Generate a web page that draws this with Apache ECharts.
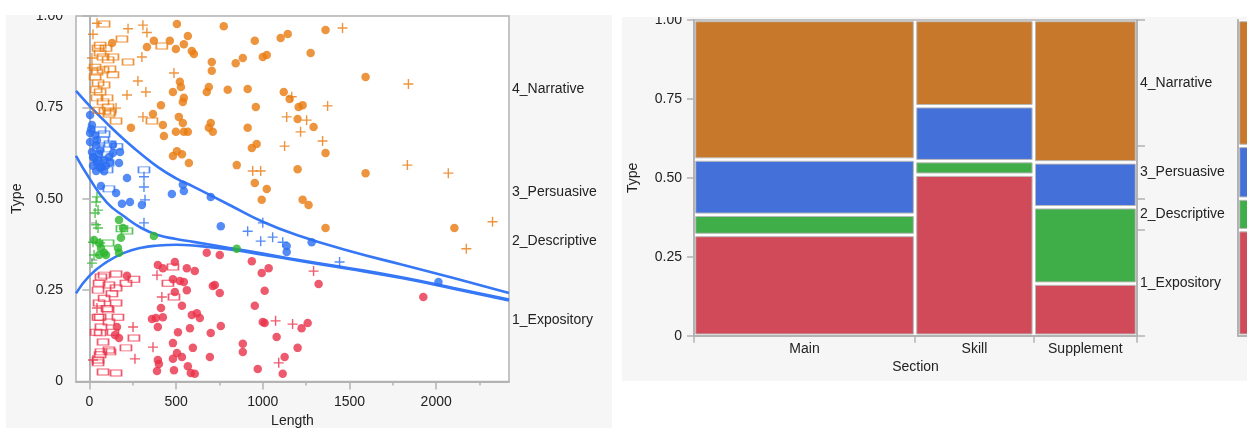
<!DOCTYPE html>
<html>
<head>
<meta charset="utf-8">
<script src="https://cdn.jsdelivr.net/npm/echarts@6/dist/echarts.min.js"></script>
<style>
  html, body { margin: 0; padding: 0; background: #ffffff; }
  #chart { width: 1247px; height: 428px; }
</style>
</head>
<body>
<div id="chart"></div>
<script>
// ---- Response categories and explanatory groups ----
const types = ['1_Expository', '2_Descriptive', '3_Persuasive', '4_Narrative'];
const sections = ['Main', 'Skill', 'Supplement'];

// Share of documents in each Section (mosaic column widths)
const sectionShare = [0.499, 0.268, 0.233];
// Share of each Type inside a Section, bottom to top: Expository, Descriptive, Persuasive, Narrative
const mainTypeShare = [0.319, 0.064, 0.175, 0.442];
const skillTypeShare = [0.510, 0.043, 0.174, 0.273];
const supplementTypeShare = [0.165, 0.242, 0.142, 0.451];

// Axis tick labels
const lengthTicks = [0, 500, 1000, 1500, 2000];
const lengthMinorTicks = [250, 750, 1250, 1750, 2250];
const probTicks = [0, 0.25, 0.5, 0.75, 1];

// Fitted cumulative probability curves against Length
const curveLength = [-77, 0, 100, 200, 300, 400, 500, 600, 800, 1000, 1200, 1500, 1800, 2100, 2420];
const curveNarrativeEdge = [0.795, 0.755, 0.707, 0.662, 0.622, 0.585, 0.556, 0.533, 0.485, 0.437, 0.400, 0.357, 0.320, 0.283, 0.242];
const curvePersuasiveEdge = [0.617, 0.556, 0.490, 0.452, 0.420, 0.400, 0.390, 0.382, 0.366, 0.350, 0.333, 0.310, 0.285, 0.256, 0.224];
const curveDescriptiveEdge = [0.241, 0.289, 0.327, 0.352, 0.366, 0.372, 0.374, 0.372, 0.362, 0.347, 0.331, 0.308, 0.283, 0.254, 0.222];

// Documents: [Length, jittered Type position]
const narrativeMain = [[505,0.978],[775,0.972],[332,0.915],[372,0.932],[464,0.932],[499,0.910],[545,0.923],[568,0.945],[591,0.904],[603,0.896],[706,0.874],[706,0.850],[844,0.871],[885,0.885],[954,0.932],[1000,0.888],[1023,0.893],[1103,0.940],[1144,0.951],[1276,0.899],[131,0.926],[522,0.820],[528,0.806],[482,0.792],[545,0.776],[539,0.765],[689,0.806],[677,0.792],[798,0.798],[913,0.800],[413,0.756],[367,0.732],[424,0.702],[430,0.672],[240,0.694],[516,0.724],[539,0.707],[499,0.683],[545,0.683],[568,0.683],[700,0.707],[689,0.694],[712,0.683],[960,0.751],[913,0.694],[937,0.639],[965,0.650],[850,0.592],[482,0.617],[534,0.622],[574,0.598],[1121,0.792],[1155,0.773],[1207,0.751],[1230,0.756],[1201,0.718],[1293,0.696],[1201,0.581],[954,0.543],[1023,0.527],[994,0.497],[1230,0.497],[1264,0.483],[1362,0.962],[1593,0.833],[1362,0.625],[1593,0.570],[1362,0.420],[2105,0.420],[505,0.630]];
const narrativeSkill = [[85,0.978],[188,0.937],[418,0.918],[223,0.874],[361,0.713],[154,0.713],[113,0.732],[62,0.920],[62,0.899],[79,0.888],[108,0.880],[33,0.860],[44,0.847],[33,0.833],[79,0.852],[119,0.855],[136,0.888],[50,0.817],[62,0.792],[44,0.776],[102,0.776],[119,0.737],[108,0.751],[79,0.765],[96,0.912],[50,0.912],[85,0.811],[39,0.798],[136,0.839],[56,0.742],[90,0.740]];
const narrativeSupplement = [[44,0.980],[21,0.950],[223,0.965],[309,0.975],[332,0.955],[303,0.888],[488,0.844],[280,0.822],[326,0.792],[217,0.784],[309,0.724],[154,0.748],[1138,0.724],[1253,0.715],[1218,0.683],[1126,0.644],[942,0.576],[988,0.576],[1167,0.779],[15,0.885],[15,0.858],[1460,0.967],[1840,0.814],[1374,0.754],[1345,0.658],[1834,0.592],[2070,0.570],[2325,0.437],[2174,0.363]];

const persuasiveMain = [[4,0.729],[15,0.702],[4,0.680],[4,0.655],[15,0.628],[21,0.614],[44,0.598],[73,0.587],[136,0.625],[177,0.628],[136,0.647],[171,0.598],[39,0.576],[67,0.535],[154,0.516],[217,0.557],[39,0.647],[62,0.633],[33,0.674],[85,0.606],[113,0.614],[10,0.690],[27,0.612],[50,0.605],[62,0.585],[96,0.590],[21,0.590],[56,0.622],[85,0.575],[119,0.600],[44,0.660],[476,0.513],[539,0.538],[545,0.521],[700,0.505],[188,0.486],[234,0.491],[303,0.483],[758,0.425],[1138,0.371],[1138,0.354],[1282,0.381],[2013,0.272]];
const persuasiveSkill = [[315,0.579],[113,0.527],[62,0.688],[79,0.661],[159,0.642],[50,0.639],[102,0.620],[108,0.598],[102,0.579],[119,0.650],[85,0.677]];
const persuasiveSupplement = [[315,0.560],[315,0.532],[321,0.497],[315,0.434],[1000,0.434],[913,0.411],[988,0.384],[1057,0.395],[1115,0.381],[1443,0.327]];

const descriptiveMain = [[27,0.387],[56,0.379],[67,0.365],[85,0.352],[96,0.346],[56,0.346],[171,0.442],[182,0.393],[165,0.365],[171,0.352],[194,0.420],[372,0.398],[850,0.363]];
const descriptiveSkill = [[188,0.418],[217,0.412],[108,0.379]];
const descriptiveSupplement = [[39,0.491],[50,0.469],[39,0.429],[50,0.420],[21,0.381],[15,0.324],[27,0.346],[62,0.379],[44,0.505],[33,0.461]];

const expositoryMain = [[217,0.289],[395,0.319],[424,0.310],[493,0.327],[562,0.310],[608,0.302],[677,0.352],[752,0.346],[937,0.329],[994,0.297],[1034,0.310],[482,0.280],[522,0.275],[545,0.272],[493,0.245],[562,0.250],[712,0.261],[752,0.242],[1011,0.248],[954,0.207],[413,0.201],[424,0.176],[534,0.207],[591,0.182],[620,0.187],[637,0.174],[361,0.171],[395,0.149],[511,0.135],[580,0.146],[700,0.133],[758,0.152],[482,0.105],[597,0.092],[505,0.078],[534,0.067],[395,0.059],[401,0.048],[482,0.062],[695,0.067],[885,0.103],[885,0.081],[568,0.042],[585,0.023],[608,0.021],[488,0.031],[390,0.029],[1000,0.163],[1011,0.160],[1080,0.122],[1126,0.067],[1115,0.021],[1224,0.146],[1259,0.160],[1201,0.092],[971,0.034],[1322,0.267],[1926,0.231],[724,0.264],[384,0.174],[159,0.149],[148,0.127],[171,0.119]];
const expositorySkill = [[85,0.291],[154,0.294],[257,0.280],[56,0.269],[113,0.264],[50,0.250],[154,0.256],[211,0.269],[85,0.228],[56,0.215],[154,0.215],[108,0.196],[50,0.176],[113,0.163],[67,0.149],[39,0.135],[136,0.135],[79,0.108],[113,0.086],[67,0.081],[211,0.092],[257,0.119],[50,0.059],[79,0.026],[154,0.023],[482,0.313],[453,0.269],[488,0.231],[67,0.286],[165,0.176],[62,0.176],[62,0.133],[119,0.081],[62,0.073],[50,0.051],[102,0.200],[130,0.240]];
const expositorySupplement = [[390,0.291],[418,0.231],[252,0.149],[367,0.094],[263,0.062],[21,0.059],[44,0.201],[1074,0.166],[1172,0.157],[1092,0.051],[1293,0.302]];

// ---- Styling ----
const FONT = '"Liberation Sans", Arial, Helvetica, sans-serif';
const TEXT = '#222222';
const AXIS = '#b3b3b3';
const PANEL = '#f6f6f6';
const pointColor = ['#ea3148', '#2db52d', '#2a6ef2', '#e97a0e'];
const cellColor = ['#d04a59', '#3fad48', '#4470da', '#c8782b'];
const CURVE = '#3677f6';
const PLUS = 'path://M4.3,0H5.7V4.3H10V5.7H5.7V10H4.3V5.7H0V4.3H4.3Z';

// ---- Derived layout values for the mosaic and the right-hand category axes ----
const typeShareBySection = [mainTypeShare, skillTypeShare, supplementTypeShare];
const overallShare = types.map((_, t) =>
  sectionShare.reduce((acc, w, s) => acc + w * typeShareBySection[s][t], 0));
function cumulative(arr) {
  const out = [0];
  arr.forEach(v => out.push(out[out.length - 1] + v));
  return out;
}
const typeEdges = cumulative(overallShare);
typeEdges[typeEdges.length - 1] = 1;
const typeMids = types.map((_, t) => (typeEdges[t] + typeEdges[t + 1]) / 2);
const sectionEdges = cumulative(sectionShare);
sectionEdges[sectionEdges.length - 1] = 1;
const sectionMids = sections.map((_, s) => (sectionEdges[s] + sectionEdges[s + 1]) / 2);

function nearestName(v, mids, names) {
  let k = 0;
  for (let i = 1; i < mids.length; i++) {
    if (Math.abs(mids[i] - v) < Math.abs(mids[k] - v)) k = i;
  }
  return names[k];
}

const mosaicCells = [];
sections.forEach((_, s) => {
  const edges = cumulative(typeShareBySection[s]);
  types.forEach((_, t) => {
    mosaicCells.push([sectionEdges[s], sectionEdges[s + 1], edges[t], t === types.length - 1 ? 1 : edges[t + 1], t]);
  });
});
const marginalCells = types.map((_, t) => [0, 1, typeEdges[t], typeEdges[t + 1], t]);

function renderCell(params, api) {
  const a = api.coord([api.value(0), api.value(3)]);
  const b = api.coord([api.value(1), api.value(2)]);
  const g = 1.7;
  return {
    type: 'rect',
    shape: { x: a[0] + g, y: a[1] + g, width: b[0] - a[0] - 2 * g, height: b[1] - a[1] - 2 * g },
    style: { fill: cellColor[api.value(4)], stroke: '#b9b9b9', lineWidth: 1 }
  };
}

const labelStyle = { color: TEXT, fontSize: 14, fontFamily: FONT };
const axisLine = { show: true, lineStyle: { color: AXIS, width: 2 } };
const tickStyle = { color: AXIS, width: 1.5 };
const probLabel = v => (v === 0 ? '0' : v.toFixed(2));

// ---- Scatter series ----
const groups = [
  [expositoryMain, expositorySkill, expositorySupplement],
  [descriptiveMain, descriptiveSkill, descriptiveSupplement],
  [persuasiveMain, persuasiveSkill, persuasiveSupplement],
  [narrativeMain, narrativeSkill, narrativeSupplement]
];
const scatterSeries = [];
groups.forEach((bySection, t) => {
  bySection.forEach((pts, s) => {
    const base = { type: 'scatter', name: types[t] + ' / ' + sections[s], xAxisIndex: 0, yAxisIndex: 0, data: pts, z: 4, silent: true };
    if (s === 0) {
      Object.assign(base, { symbol: 'circle', symbolSize: 8.5, itemStyle: { color: pointColor[t] } });
    } else if (s === 1) {
      Object.assign(base, { symbol: 'rect', symbolSize: [11, 6], itemStyle: { color: 'rgba(255,255,255,0)', borderColor: pointColor[t], borderWidth: 1.3 } });
    } else {
      Object.assign(base, { symbol: PLUS, symbolSize: 10, itemStyle: { color: pointColor[t] } });
    }
    scatterSeries.push(base);
  });
});

const curveSeries = [curveNarrativeEdge, curvePersuasiveEdge, curveDescriptiveEdge].map(vals => ({
  type: 'line',
  xAxisIndex: 0, yAxisIndex: 0,
  data: curveLength.map((x, i) => [x, vals[i]]),
  showSymbol: false, symbol: 'none',
  smooth: 0.5,
  lineStyle: { color: CURVE, width: 2.6 },
  z: 3, silent: true
}));

const chart = echarts.init(document.getElementById('chart'), null, { renderer: 'canvas' });
chart.setOption({
  animation: false,
  backgroundColor: '#ffffff',
  graphic: [
    { type: 'rect', z: -10, silent: true, shape: { x: 6, y: 15, width: 606, height: 413 }, style: { fill: PANEL } },
    { type: 'rect', z: -10, silent: true, shape: { x: 622, y: 17, width: 625, height: 364 }, style: { fill: PANEL } },
    { type: 'rect', z: 100, silent: true, shape: { x: 0, y: 0, width: 616, height: 15 }, style: { fill: '#ffffff' } },
    { type: 'rect', z: 100, silent: true, shape: { x: 616, y: 0, width: 631, height: 17 }, style: { fill: '#ffffff' } }
  ],
  grid: [
    { left: 76, top: 16, width: 433, height: 365.5, show: true, backgroundColor: '#ffffff', borderColor: AXIS, borderWidth: 1.5, outerBoundsMode: 'none', containLabel: false },
    { left: 694, top: 20, width: 443, height: 315.7, show: true, backgroundColor: '#ffffff', borderColor: AXIS, borderWidth: 1.5, outerBoundsMode: 'none', containLabel: false },
    { left: 1238, top: 20, width: 40, height: 315.7, show: true, backgroundColor: '#ffffff', borderWidth: 0, outerBoundsMode: 'none', containLabel: false }
  ],
  xAxis: [
    {
      gridIndex: 0, type: 'value', min: -77, max: 2420, position: 'bottom',
      axisLine: axisLine,
      axisTick: { show: true, customValues: lengthTicks, length: 8, lineStyle: tickStyle },
      axisLabel: Object.assign({ customValues: lengthTicks, margin: 14, formatter: v => String(v) }, labelStyle),
      splitLine: { show: false },
      name: 'Length', nameLocation: 'middle', nameGap: 30, nameTextStyle: labelStyle
    },
    {
      gridIndex: 0, type: 'value', min: -77, max: 2420, position: 'bottom',
      axisLine: { show: false },
      axisTick: { show: true, customValues: lengthMinorTicks, length: 4, lineStyle: tickStyle },
      axisLabel: { show: false },
      splitLine: { show: false }
    },
    {
      gridIndex: 1, type: 'value', min: 0, max: 1, position: 'bottom',
      axisLine: axisLine,
      axisTick: { show: true, customValues: sectionEdges, length: 7, lineStyle: tickStyle },
      axisLabel: Object.assign({ customValues: sectionMids, margin: 6, formatter: v => nearestName(v, sectionMids, sections) }, labelStyle),
      splitLine: { show: false },
      name: 'Section', nameLocation: 'middle', nameGap: 24, nameTextStyle: labelStyle
    },
    {
      gridIndex: 2, type: 'value', min: 0, max: 1, position: 'bottom',
      axisLine: axisLine, axisTick: { show: false }, axisLabel: { show: false }, splitLine: { show: false }
    }
  ],
  yAxis: [
    {
      gridIndex: 0, type: 'value', min: 0, max: 1, interval: 0.25, position: 'left',
      axisLine: axisLine,
      axisTick: { show: true, length: 7, lineStyle: tickStyle },
      axisLabel: Object.assign({ margin: 13, formatter: probLabel }, labelStyle),
      splitLine: { show: false },
      name: 'Type', nameLocation: 'middle', nameGap: 52, nameRotate: 90, nameTextStyle: labelStyle
    },
    {
      gridIndex: 0, type: 'value', min: 0, max: 1, position: 'right',
      axisLine: axisLine,
      axisTick: { show: true, customValues: typeEdges, length: 8, lineStyle: tickStyle },
      axisLabel: Object.assign({ customValues: typeMids, margin: 3, formatter: v => nearestName(v, typeMids, types) }, labelStyle),
      splitLine: { show: false }
    },
    {
      gridIndex: 1, type: 'value', min: 0, max: 1, interval: 0.25, position: 'left',
      axisLine: axisLine,
      axisTick: { show: true, length: 7, lineStyle: tickStyle },
      axisLabel: Object.assign({ margin: 12, formatter: probLabel }, labelStyle),
      splitLine: { show: false },
      name: 'Type', nameLocation: 'middle', nameGap: 54, nameRotate: 90, nameTextStyle: labelStyle
    },
    {
      gridIndex: 1, type: 'value', min: 0, max: 1, position: 'right',
      axisLine: axisLine,
      axisTick: { show: true, customValues: typeEdges, length: 8, lineStyle: tickStyle },
      axisLabel: Object.assign({ customValues: typeMids, margin: 3, formatter: v => nearestName(v, typeMids, types) }, labelStyle),
      splitLine: { show: false }
    },
    {
      gridIndex: 2, type: 'value', min: 0, max: 1, position: 'left',
      axisLine: axisLine, axisTick: { show: false }, axisLabel: { show: false }, splitLine: { show: false }
    }
  ],
  series: curveSeries.concat(scatterSeries, [
    {
      type: 'custom', xAxisIndex: 2, yAxisIndex: 2, data: mosaicCells,
      encode: { x: [0, 1], y: [2, 3] }, renderItem: renderCell, silent: true
    },
    {
      type: 'custom', xAxisIndex: 3, yAxisIndex: 4, data: marginalCells,
      encode: { x: [0, 1], y: [2, 3] }, renderItem: renderCell, silent: true
    }
  ])
});
</script>
</body>
</html>
